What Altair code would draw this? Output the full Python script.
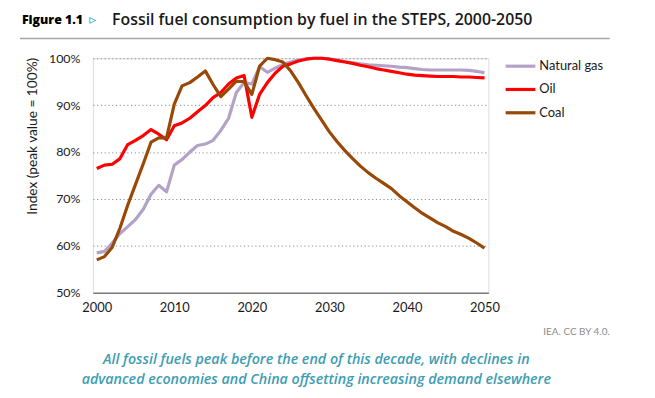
import altair as alt
import pandas as pd

years = list(range(2000, 2051))

natural_gas = [58.5, 58.8, 60.6, 62.6, 64.1, 65.6, 67.8, 71.0, 72.9, 71.5,
               77.2, 78.4, 80.0, 81.4, 81.7, 82.5, 84.6, 87.2, 92.7, 94.8,
               94.5, 98.2, 97.0, 97.9, 98.7, 99.2, 99.6, 99.9, 100.0, 100.0,
               99.9, 99.6, 99.3, 99.0, 98.8, 98.6, 98.5, 98.4, 98.3, 98.1,
               98.0, 97.8, 97.6, 97.5, 97.5, 97.5, 97.5, 97.5, 97.4, 97.2,
               96.9]
oil = [76.5, 77.2, 77.4, 78.6, 81.6, 82.5, 83.5, 84.8, 83.8, 82.6,
       85.6, 86.2, 87.2, 88.6, 89.9, 91.6, 92.7, 94.5, 95.8, 96.3,
       87.4, 92.3, 94.8, 96.8, 98.3, 98.8, 99.4, 99.8, 100.0, 100.0,
       99.8, 99.5, 99.2, 98.9, 98.5, 98.2, 97.8, 97.5, 97.2, 96.9,
       96.6, 96.4, 96.3, 96.2, 96.1, 96.1, 96.1, 96.0, 96.0, 95.9,
       95.8]
coal = [57.0, 57.7, 59.7, 63.8, 68.7, 73.1, 77.5, 82.1, 83.0, 83.0,
        90.2, 94.1, 94.8, 96.0, 97.3, 94.4, 91.8, 93.4, 95.1, 95.0,
        92.3, 98.3, 100.0, 99.7, 99.2, 97.3, 94.8, 92.0, 89.3, 86.8,
        84.3, 82.2, 80.3, 78.6, 77.0, 75.6, 74.4, 73.3, 72.2, 70.7,
        69.4, 68.1, 66.9, 65.9, 64.9, 64.1, 63.1, 62.4, 61.6, 60.6,
        59.5]

series_names = ["Natural gas", "Oil", "Coal"]
series_colors = ["#b3a2c7", "#ff0000", "#984807"]
x_ticks = [2000, 2010, 2020, 2030, 2040, 2050]
y_ticks = [50, 60, 70, 80, 90, 100]

fig_label = "Figure 1.1"
fig_mark = "\u25b9"
fig_title = "Fossil fuel consumption by fuel in the STEPS, 2000-2050"
source = "IEA. CC BY 4.0."
caption1 = "All fossil fuels peak before the end of this decade, with declines in"
caption2 = "advanced economies and China offsetting increasing demand elsewhere"

rows = []
for name, vals in zip(series_names, [natural_gas, oil, coal]):
    for y, v in zip(years, vals):
        rows.append({"year": y, "value": v, "fuel": name})
df = pd.DataFrame(rows)

PL, PT = 85.6, 49  # padding so plot origin is at (93.6, 57) on page
W, H = 399, 236.5
ox, oy = 8 + PL, 8 + PT

lines = alt.Chart(df).mark_line(strokeWidth=3.2, strokeJoin="round").encode(
    x=alt.X("year:Q",
            scale=alt.Scale(domain=[1999.5, 2050.5], nice=False, zero=False),
            axis=alt.Axis(values=x_ticks, format="d", grid=False, ticks=False, tickSize=0,
                          domainColor="#7f7f7f", domainWidth=1.5, labelPadding=9,
                          labelFont="Lato", labelFontSize=13, labelColor="#1a1a1a",
                          title=None)),
    y=alt.Y("value:Q",
            scale=alt.Scale(domain=[50, 100], nice=False, zero=False),
            axis=alt.Axis(values=y_ticks, labelExpr="datum.value + '%'", domain=False,
                          ticks=False, tickSize=0, labelPadding=13,
                          labelFont="Lato", labelFontSize=12.5, labelColor="#1a1a1a",
                          grid=True, gridColor="#8c8c8c", gridDash=[1.2, 2.6], gridWidth=1,
                          gridOpacity={"condition": {"test": "datum.value == 50", "value": 0}, "value": 1},
                          title="Index (peak value = 100%)", titleFont="Lato",
                          titleFontSize=13.8, titleFontWeight="normal", titleColor="#1a1a1a",
                          titleAngle=270, titleAlign="right", titleBaseline="middle",
                          titleX=33 - ox, titleY=-1)),
    color=alt.Color("fuel:N",
                    scale=alt.Scale(domain=series_names, range=series_colors),
                    legend=alt.Legend(title=None, orient="none", legendX=513 - ox, legendY=-4,
                                      symbolType="M-1.5,0L1.5,0", symbolSize=400,
                                      symbolStrokeWidth=3.2, labelFont="Lato",
                                      labelFontSize=13, labelColor="#1a1a1a",
                                      labelOffset=7, rowPadding=4.5, padding=0)),
)

one = pd.DataFrame({"k": [0]})

def txt(text, x, y, **kw):
    return alt.Chart(one).mark_text(text=text, **kw).encode(x=alt.value(x - ox), y=alt.value(y - oy))

title_a = txt(fig_label, 22, 18, align="left", baseline="middle", font="Open Sans",
              fontSize=12.5, fontWeight=800, color="#000000")
title_b = txt(fig_mark, 90, 18, align="left", baseline="middle", font="DejaVu Sans",
              fontSize=14, fontWeight="bold", color="#1a9fc9")
title_c = txt(fig_title, 113, 18, align="left", baseline="middle", font="Open Sans",
              fontSize=16, fontWeight=600, color="#1a1a1a")
rule = alt.Chart(one).mark_rule(color="#a6a6a6", strokeWidth=1.5).encode(
    x=alt.value(20 - ox), x2=alt.value(615 - ox), y=alt.value(37 - oy))
src = txt(source, 615, 333, align="right", baseline="middle", font="Lato",
          fontSize=10, color="#8c8c8c")
cap1 = txt(caption1, 319, 361, align="center", baseline="middle", font="Open Sans",
           fontSize=14.4, fontStyle="italic", fontWeight=600, color="#3d9db3")
cap2 = txt(caption2, 319, 382, align="center", baseline="middle", font="Open Sans",
           fontSize=14.4, fontStyle="italic", fontWeight=600, color="#3d9db3")

chart = alt.layer(lines, title_a, title_b, title_c, rule, src, cap1, cap2).properties(
    width=W, height=H,
    padding={"left": PL, "top": PT, "right": 160, "bottom": 100},
    autosize=alt.AutoSizeParams(type="none"),
).configure_view(stroke=None).configure(background="white")

chart.save("out.html", embed_options={"renderer": "svg", "actions": False})
